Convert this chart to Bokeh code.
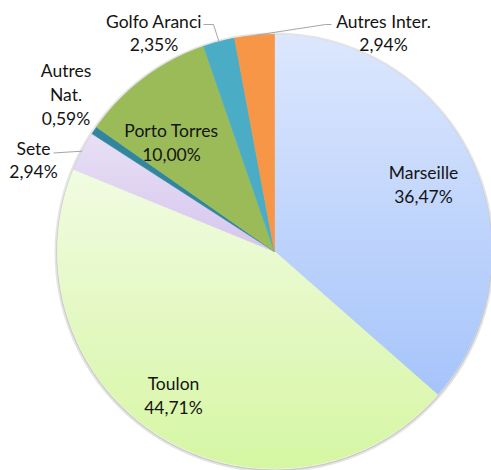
import numpy as np
from bokeh.plotting import figure
from bokeh.models import Range1d
from bokeh.core.properties import value
from bokeh.embed import file_html
from bokeh.resources import INLINE

# ---------------- data ----------------
ports = ["Marseille", "Toulon", "Sete", "Autres Nat.", "Porto Torres", "Golfo Aranci", "Autres Inter."]
shares = [36.47, 44.71, 2.94, 0.59, 10.00, 2.35, 2.94]
label_names = ["Marseille", "Toulon", "Sete", "Autres\nNat.", "Porto Torres", "Golfo Aranci", "Autres Inter."]

# ---------------- style / layout ----------------
top_colors = ["#DCE7FD", "#F1FCE2", "#E7DFF5", "#31859C", "#9BBB59", "#4BACC6", "#F79646"]
bottom_colors = ["#A5C3FA", "#D6F6A2", "#D4C4ED", "#31859C", "#9BBB59", "#4BACC6", "#F79646"]
W, H = 491, 470
CX_PX, CY_PX, R = 274, 251, 217
# label block centres (pixels)
label_pos_px = [(423, 184), (173, 395), (33, 159.5), (65.5, 94), (171, 142), (153.5, 32.5), (383, 32.5)]
# leader line start points (pixels) for outside labels, None = no leader
leader_px = [None, None, [(53, 152.5)], None, None, [(203, 24), (213, 24)], [(331, 24), (325, 24)]]


def Y(py):
    return H - py


cx, cy = CX_PX, Y(CY_PX)

p = figure(width=W, height=H, x_range=Range1d(0, W), y_range=Range1d(0, H),
           output_backend="svg", toolbar_location=None, min_border=0,
           x_axis_location=None, y_axis_location=None,
           outline_line_color=None, background_fill_color="white",
           border_fill_color="white")
p.xgrid.grid_line_color = None
p.ygrid.grid_line_color = None

total = float(sum(shares))
cum = np.concatenate([[0.0], np.cumsum(shares)]) / total * 2 * np.pi
mids = (cum[:-1] + cum[1:]) / 2


def hex2rgb(h):
    h = h.lstrip("#")
    return np.array([int(h[i:i + 2], 16) for i in (0, 2, 4)], dtype=float)


def mix(c0, c1, t):
    c = hex2rgb(c0) * (1 - t) + hex2rgb(c1) * t
    return "#%02x%02x%02x" % tuple(int(round(v)) for v in c)


def clip_half(pts, inside, inter):
    out = []
    n = len(pts)
    for i in range(n):
        cur, prev = pts[i], pts[i - 1]
        if inside(cur):
            if not inside(prev):
                out.append(inter(prev, cur))
            out.append(cur)
        elif inside(prev):
            out.append(inter(prev, cur))
    return out


def ix(a, b, yv):
    t = (yv - a[1]) / (b[1] - a[1])
    return (a[0] + t * (b[0] - a[0]), yv)


def clip_band(poly, y0, y1):
    pts = clip_half(poly, lambda q: q[1] >= y0, lambda a, b: ix(a, b, y0))
    if len(pts) < 3:
        return []
    pts = clip_half(pts, lambda q: q[1] <= y1, lambda a, b: ix(a, b, y1))
    return pts


# soft shadow ring
p.circle(x=[cx], y=[cy - 1], radius=R + 1.5, fill_color=None, line_color="#000000", line_alpha=0.10, line_width=3)
p.circle(x=[cx], y=[cy - 1], radius=R + 0.5, fill_color=None, line_color="#000000", line_alpha=0.12, line_width=1.5)

xs_all, ys_all, cols = [], [], []
for i in range(len(shares)):
    a0, a1 = cum[i], cum[i + 1]
    n = max(4, int((a1 - a0) / (2 * np.pi) * 360))
    angs = np.linspace(a0, a1, n)
    poly = [(cx, cy)] + [(cx + R * np.sin(a), cy + R * np.cos(a)) for a in angs]
    ys_poly = [q[1] for q in poly]
    ymin, ymax = min(ys_poly), max(ys_poly)
    if top_colors[i] == bottom_colors[i]:
        xs_all.append([q[0] for q in poly])
        ys_all.append(ys_poly)
        cols.append(top_colors[i])
        continue
    step = 2.0
    yb = ymax
    while yb > ymin:
        y0 = max(ymin, yb - step)
        band = clip_band(poly, y0, yb)
        if len(band) >= 3:
            t = (ymax - (y0 + yb) / 2) / (ymax - ymin)
            xs_all.append([q[0] for q in band])
            ys_all.append([q[1] for q in band])
            cols.append(mix(top_colors[i], bottom_colors[i], t))
        yb = y0

p.patches(xs=xs_all, ys=ys_all, fill_color=cols, line_color=cols, line_width=0.7)

# leader lines
lx, ly = [], []
for i, lead in enumerate(leader_px):
    if lead is None:
        continue
    ex = cx + R * np.sin(mids[i])
    ey = cy + R * np.cos(mids[i])
    lx.append([q[0] for q in lead] + [ex])
    ly.append([Y(q[1]) for q in lead] + [ey])
p.multi_line(xs=lx, ys=ly, line_color="#A6A6A6", line_width=1)

# labels
texts = [n + "\n" + f"{v:.2f}".replace(".", ",") + "%" for n, v in zip(label_names, shares)]
p.text(x=[q[0] for q in label_pos_px], y=[Y(q[1]) for q in label_pos_px], text=texts,
       text_font=value("Lato"), text_font_size="17.5px", text_align="center",
       text_baseline="middle", text_line_height=1.12, text_color="#141414")

open("out.html", "w").write(file_html(p, INLINE))
